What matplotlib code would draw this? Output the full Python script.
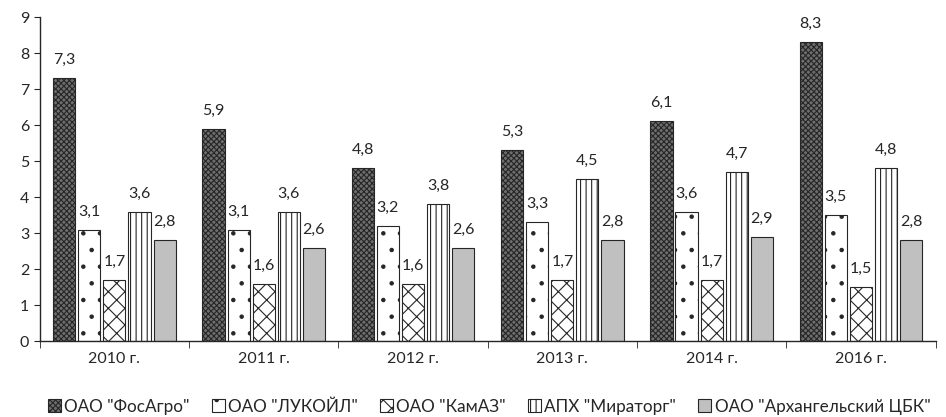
import matplotlib
matplotlib.use("Agg")
import matplotlib.pyplot as plt
import numpy as np

plt.rcParams.update({"font.family": ["Lato", "DejaVu Sans"], "hatch.linewidth": 0.8})

years = ["2010 г.", "2011 г.", "2012 г.", "2013 г.", "2014 г.", "2016 г."]
series_names = ['ОАО "ФосАгро"', 'ОАО "ЛУКОЙЛ"', 'ОАО "КамАЗ"',
                'АПХ "Мираторг"', 'ОАО "Архангельский ЦБК"']
fosagro = [7.3, 5.9, 4.8, 5.3, 6.1, 8.3]
lukoil = [3.1, 3.1, 3.2, 3.3, 3.6, 3.5]
kamaz = [1.7, 1.6, 1.6, 1.7, 1.7, 1.5]
miratorg = [3.6, 3.6, 3.8, 4.5, 4.7, 4.8]
arkh = [2.8, 2.6, 2.6, 2.8, 2.9, 2.8]
values = [fosagro, lukoil, kamaz, miratorg, arkh]

INK = "#262626"
styles = [
    dict(facecolor="#6e6e6e", hatch="xxxxxx"),
    dict(facecolor="white", hatch=". "),
    dict(facecolor="white", hatch="xx"),
    dict(facecolor="white", hatch="|||"),
    dict(facecolor="#c0c0c0", hatch=""),
]

fig = plt.figure(figsize=(9.46, 4.17), dpi=100)
ax = fig.add_axes([0.042, 0.182, 0.947, 0.777])

x = np.arange(len(years))
stride = 0.168
width = 0.148
handles = []
for i, (vals, st) in enumerate(zip(values, styles)):
    pos = x + (i - 2) * stride
    bars = ax.bar(pos, vals, width, edgecolor=INK, linewidth=0.8, **st,
                  label=series_names[i])
    handles.append(bars)
    for p, v in zip(pos, vals):
        ax.annotate(f"{v:.1f}".replace(".", ","), (p, v), xytext=(0, 8),
                    textcoords="offset points", ha="center", va="bottom",
                    fontsize=11.5, color=INK)

ax.set_xlim(-0.5, len(years) - 0.5)
ax.set_ylim(0, 9)
ax.set_yticks(range(0, 10))
ax.tick_params(axis="y", labelsize=11.5, colors=INK, length=4)
ax.set_xticks(x)
ax.set_xticklabels(years, fontsize=11.5, color=INK)
ax.tick_params(axis="x", length=0, pad=8)
ax.set_xticks(np.arange(-0.5, len(years)), minor=True)
ax.tick_params(axis="x", which="minor", length=5, color=INK)
for s in ["top", "right"]:
    ax.spines[s].set_visible(False)
for s in ["left", "bottom"]:
    ax.spines[s].set_color(INK)
    ax.spines[s].set_linewidth(1.0)

fig.legend(handles=handles, loc="center", bbox_to_anchor=(0.517, 0.025), ncol=5,
           frameon=False, fontsize=12.3, handlelength=0.75, handleheight=0.75,
           handletextpad=0.2, columnspacing=1.3, labelcolor=INK)

fig.savefig("out.png", dpi=100, facecolor="white")
